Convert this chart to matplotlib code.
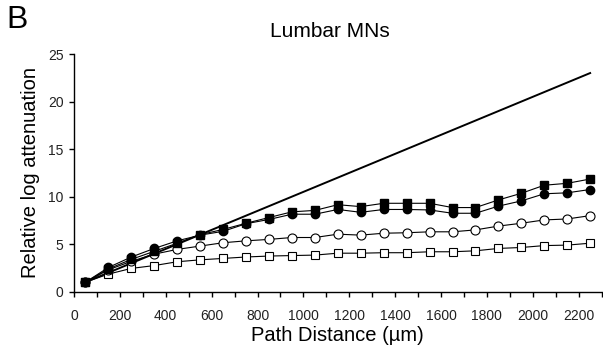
import numpy as np
import matplotlib.pyplot as plt

plt.rcParams["font.family"] = "Liberation Sans"

# path distance of each sample point, um
dist = np.arange(50, 2300, 100)

linear_ref = [1.0, 2.0, 3.0, 4.0, 5.0, 6.0, 7.0, 8.0, 9.0, 10.0, 11.0, 12.0,
              13.0, 14.0, 15.0, 16.0, 17.0, 18.0, 19.0, 20.0, 21.0, 22.0, 23.0]
filled_sq = [1.0, 2.4, 3.4, 4.25, 5.1, 6.0, 6.55, 7.2, 7.8, 8.4, 8.55, 9.15,
             8.95, 9.3, 9.3, 9.3, 8.85, 8.85, 9.65, 10.35, 11.2, 11.4, 11.85]
filled_ci = [1.0, 2.55, 3.65, 4.55, 5.35, 5.95, 6.35, 7.15, 7.6, 8.15, 8.15, 8.65,
             8.35, 8.65, 8.65, 8.6, 8.25, 8.25, 9.0, 9.55, 10.3, 10.4, 10.75]
open_ci = [1.0, 2.3, 3.2, 3.95, 4.45, 4.8, 5.15, 5.35, 5.5, 5.7, 5.7, 6.05,
           5.95, 6.15, 6.2, 6.3, 6.3, 6.5, 6.9, 7.2, 7.55, 7.65, 8.0]
open_sq = [1.0, 1.85, 2.45, 2.75, 3.15, 3.35, 3.5, 3.65, 3.75, 3.8, 3.85, 4.05,
           4.05, 4.1, 4.1, 4.2, 4.2, 4.3, 4.55, 4.65, 4.85, 4.9, 5.1]

fig = plt.figure(figsize=(6.03, 3.5), dpi=100)
ax = fig.add_axes([0.1227, 0.1666, 0.875, 0.679])

ax.plot(dist, linear_ref, color='black', linewidth=1.4)
ax.plot(dist, open_sq, color='black', linewidth=0.8, marker='s', markersize=6,
        markerfacecolor='white', markeredgecolor='black', markeredgewidth=0.8)
ax.plot(dist, open_ci, color='black', linewidth=0.8, marker='o', markersize=6.5,
        markerfacecolor='white', markeredgecolor='black', markeredgewidth=0.8)
ax.plot(dist, filled_ci, color='black', linewidth=0.8, marker='o', markersize=6)
ax.plot(dist, filled_sq, color='black', linewidth=0.8, marker='s', markersize=6)

ax.set_xlim(0, 2300)
ax.set_ylim(0, 25)
ax.set_xticks(np.arange(0, 2400, 100))
ax.set_xticklabels([str(v) if v % 200 == 0 and v <= 2200 else '' for v in range(0, 2400, 100)])
ax.set_yticks(np.arange(0, 30, 5))
ax.tick_params(direction='out', length=3.5, width=1, labelsize=10,
               colors='black', labelcolor='#222222')
ax.tick_params(axis='x', pad=9)
ax.tick_params(axis='y', pad=4)

for s in ['top', 'right']:
    ax.spines[s].set_visible(False)
for s in ['left', 'bottom']:
    ax.spines[s].set_linewidth(1)

ax.set_xlabel('Path Distance (µm)', fontsize=14.5, labelpad=2)
ax.set_ylabel('Relative log attenuation', fontsize=14.5, labelpad=6)

fig.text(0.547, 0.91, 'Lumbar MNs', fontsize=15, ha='center', va='center')
fig.text(0.010, 0.985, 'B', fontsize=23, ha='left', va='top')

plt.savefig("out.png", dpi=100)
